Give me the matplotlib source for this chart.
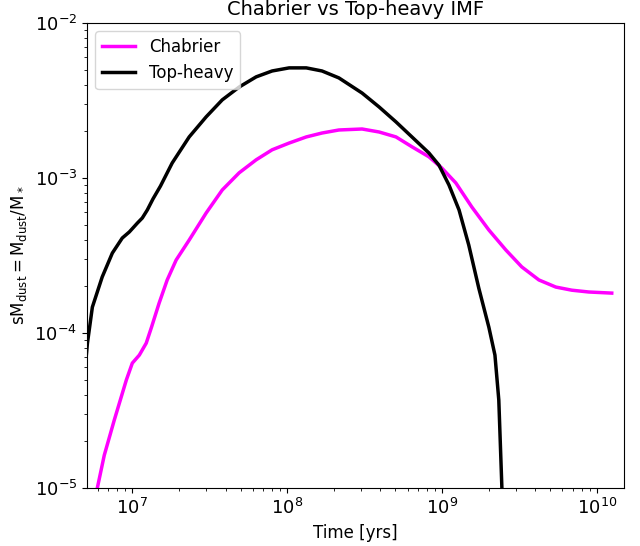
import matplotlib
matplotlib.use("Agg")
import matplotlib.pyplot as plt

# Chabrier IMF: time [yr] and specific dust mass
t_chab = [5.77e6, 5.94e6, 6.59e6, 7.65e6, 9.15e6, 1.0e7, 1.11e7, 1.23e7, 1.33e7, 1.49e7,
          1.68e7, 1.92e7, 2.33e7, 3.0e7, 3.81e7, 4.9e7, 6.31e7, 8.0e7, 1.03e8, 1.33e8,
          1.68e8, 2.16e8, 3.05e8, 3.93e8, 5.05e8, 6.4e8, 8.24e8, 9.98e8, 1.23e9, 1.56e9,
          2.01e9, 2.59e9, 3.28e9, 4.23e9, 5.44e9, 6.9e9, 8.88e9, 1.25e10]
s_chab = [8.4e-6, 1.0e-5, 1.63e-5, 2.75e-5, 4.98e-5, 6.4e-5, 7.21e-5, 8.61e-5, 1.09e-4, 1.56e-4,
          2.2e-4, 2.96e-4, 3.98e-4, 5.95e-4, 8.37e-4, 1.08e-3, 1.31e-3, 1.52e-3, 1.68e-3, 1.84e-3,
          1.95e-3, 2.04e-3, 2.07e-3, 1.98e-3, 1.84e-3, 1.59e-3, 1.37e-3, 1.16e-3, 9.29e-4, 6.5e-4,
          4.62e-4, 3.43e-4, 2.67e-4, 2.2e-4, 1.98e-4, 1.89e-4, 1.84e-4, 1.81e-4]

# Top-heavy IMF
t_top = [5.0e6, 5.13e6, 5.52e6, 6.39e6, 7.43e6, 8.61e6, 9.57e6, 1.08e7, 1.16e7, 1.25e7,
         1.36e7, 1.52e7, 1.81e7, 2.33e7, 3.0e7, 3.81e7, 4.9e7, 6.31e7, 8.0e7, 1.03e8,
         1.33e8, 1.68e8, 2.16e8, 3.05e8, 3.93e8, 5.05e8, 6.4e8, 8.24e8, 9.57e8, 1.11e9,
         1.29e9, 1.49e9, 1.73e9, 2.01e9, 2.2e9, 2.33e9, 2.44e9, 2.48e9]
s_top = [6.5e-5, 8.61e-5, 1.47e-4, 2.3e-4, 3.28e-4, 4.1e-4, 4.49e-4, 5.13e-4, 5.52e-4, 6.22e-4,
         7.33e-4, 8.87e-4, 1.25e-3, 1.84e-3, 2.48e-3, 3.19e-3, 3.86e-3, 4.49e-3, 4.9e-3, 5.13e-3,
         5.13e-3, 4.9e-3, 4.42e-3, 3.53e-3, 2.87e-3, 2.3e-3, 1.84e-3, 1.45e-3, 1.21e-3, 9.02e-4,
         6.22e-4, 3.7e-4, 1.95e-4, 1.09e-4, 7.21e-5, 3.7e-5, 1.0e-5, 6.0e-6]

fig = plt.figure(figsize=(6.4, 5.46), dpi=100)
ax = fig.add_axes([0.136, 0.106, 0.839, 0.852])

ax.plot(t_chab, s_chab, color="magenta", lw=2.5, label="Chabrier")
ax.plot(t_top, s_top, color="black", lw=2.5, label="Top-heavy")

ax.set_xscale("log")
ax.set_yscale("log")
ax.set_xlim(5.1e6, 1.5e10)
ax.set_ylim(1e-5, 1e-2)

ax.set_title("Chabrier vs Top-heavy IMF", fontsize=14)
ax.set_xlabel("Time [yrs]", fontsize=12)
ax.set_ylabel(r"$\rm sM_{dust} = M_{dust}/M_*$", fontsize=12)
ax.tick_params(axis="both", which="major", labelsize=13)
ax.legend(loc="upper left", fontsize=12)

fig.savefig("out.png", dpi=100)
